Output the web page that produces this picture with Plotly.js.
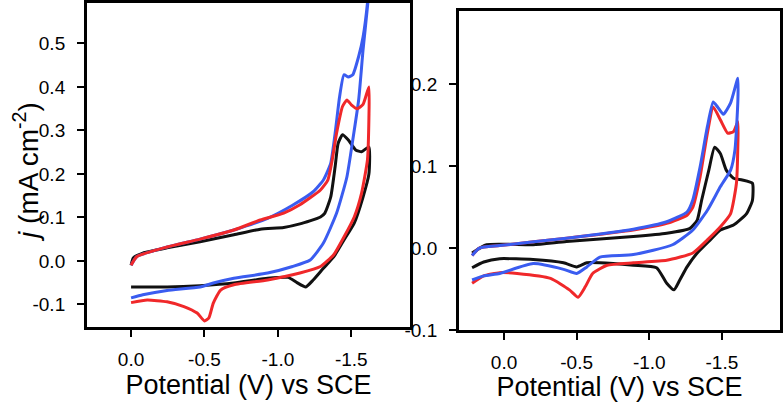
<!DOCTYPE html>
<html>
<head>
<meta charset="utf-8">
<script src="https://cdn.plot.ly/plotly-3.0.1.min.js"></script>
<style>
  body { margin: 0; background: #fff; }
  #graph { width: 784px; height: 402px; }
</style>
</head>
<body>
<div id="graph"></div>
<script>
// left panel: potential (V vs SCE) and current density (mA cm-2)
var leftBlackV = [0, -0.015, -0.08, -0.245, -0.47, -0.70, -0.88, -1.04, -1.15, -1.29, -1.32, -1.36, -1.39, -1.41, -1.44, -1.48, -1.53, -1.57, -1.62,
  -1.62, -1.58, -1.52, -1.45, -1.38, -1.31, -1.24, -1.19, -1.13, -1.07, -0.93, -0.70, -0.47, -0.245, 0];
var leftBlackJ = [-0.01, 0.007, 0.018, 0.03, 0.044, 0.06, 0.073, 0.077, 0.085, 0.101, 0.11, 0.147, 0.217, 0.27, 0.29, 0.278, 0.255, 0.251, 0.262,
  0.20, 0.147, 0.087, 0.048, 0.009, -0.017, -0.044, -0.06, -0.05, -0.038, -0.04, -0.051, -0.057, -0.06, -0.06];

var leftBlueV = [0, -0.04, -0.245, -0.47, -0.70, -0.93, -1.10, -1.24, -1.31, -1.36, -1.39, -1.42, -1.45, -1.48, -1.51, -1.55, -1.58, -1.61, -1.62,
  -1.62, -1.58, -1.55, -1.51, -1.47, -1.40, -1.31, -1.22, -1.10, -0.93, -0.70, -0.56, -0.47, -0.245, -0.08, 0];
var leftBlueJ = [-0.01, 0.01, 0.032, 0.05, 0.071, 0.098, 0.128, 0.159, 0.186, 0.225, 0.294, 0.377, 0.428, 0.423, 0.428, 0.47, 0.515, 0.593, 0.64,
  0.62, 0.485, 0.37, 0.278, 0.193, 0.11, 0.041, 0.002, -0.013, -0.028, -0.04, -0.051, -0.06, -0.068, -0.078, -0.085];

var leftRedV = [0, -0.04, -0.245, -0.47, -0.70, -0.88, -1.04, -1.15, -1.29, -1.34, -1.37, -1.40, -1.44, -1.47, -1.50, -1.54, -1.58, -1.62,
  -1.62, -1.61, -1.57, -1.52, -1.45, -1.38, -1.29, -1.15, -0.93, -0.70, -0.61, -0.56, -0.53, -0.50, -0.45, -0.36, -0.245, -0.11, 0];
var leftRedJ = [-0.01, 0.01, 0.032, 0.05, 0.071, 0.094, 0.11, 0.129, 0.163, 0.186, 0.232, 0.294, 0.355, 0.37, 0.359, 0.35, 0.36, 0.40,
  0.33, 0.232, 0.156, 0.101, 0.055, 0.014, -0.013, -0.028, -0.044, -0.055, -0.067, -0.097, -0.131, -0.138, -0.12, -0.105, -0.094, -0.09, -0.096];

// right panel
var rightBlackV = [0.22, 0.12, -0.20, -0.43, -0.89, -1.12, -1.28, -1.33, -1.36, -1.41, -1.45, -1.49, -1.53, -1.58, -1.64, -1.71,
  -1.71, -1.67, -1.58, -1.49, -1.42, -1.33, -1.26, -1.21, -1.17, -1.12, -1.05, -0.89, -0.66, -0.57, -0.50, -0.41, -0.20, 0.03, 0.14, 0.22];
var rightBlackJ = [-0.006, 0.004, 0.004, 0.008, 0.014, 0.018, 0.024, 0.034, 0.058, 0.095, 0.123, 0.115, 0.095, 0.085, 0.083, 0.079,
  0.058, 0.042, 0.028, 0.022, 0.01, -0.006, -0.023, -0.039, -0.051, -0.043, -0.024, -0.021, -0.018, -0.018, -0.023, -0.018, -0.014, -0.013, -0.017, -0.024];

var rightBlueV = [0.22, 0.17, 0.03, -0.43, -0.89, -1.12, -1.26, -1.30, -1.35, -1.40, -1.44, -1.47, -1.51, -1.56, -1.61,
  -1.61, -1.59, -1.56, -1.49, -1.40, -1.30, -1.16, -0.89, -0.66, -0.57, -0.50, -0.41, -0.20, 0.03, 0.14, 0.22];
var rightBlueJ = [-0.009, 0.0, 0.003, 0.012, 0.023, 0.032, 0.044, 0.059, 0.099, 0.148, 0.178, 0.172, 0.163, 0.177, 0.207,
  0.18, 0.12, 0.095, 0.075, 0.046, 0.022, 0.004, -0.008, -0.011, -0.023, -0.031, -0.026, -0.019, -0.031, -0.034, -0.039];

var rightRedV = [0.22, 0.17, 0.03, -0.43, -0.89, -1.12, -1.26, -1.30, -1.35, -1.40, -1.44, -1.49, -1.54, -1.58, -1.61,
  -1.61, -1.60, -1.56, -1.49, -1.40, -1.30, -1.12, -0.89, -0.71, -0.61, -0.56, -0.51, -0.45, -0.32, -0.09, 0.03, 0.14, 0.22];
var rightRedJ = [-0.009, 0.0, 0.003, 0.012, 0.022, 0.03, 0.04, 0.05, 0.087, 0.14, 0.172, 0.156, 0.14, 0.142, 0.154,
  0.128, 0.079, 0.042, 0.026, 0.01, -0.006, -0.015, -0.018, -0.021, -0.031, -0.047, -0.06, -0.051, -0.037, -0.031, -0.03, -0.034, -0.043];

var xTicks = [0, -0.5, -1, -1.5];
var xTickText = ["0.0", "-0.5", "-1.0", "-1.5"];
var leftYTicks = [-0.1, 0, 0.1, 0.2, 0.3, 0.4, 0.5];
var leftYTickText = ["-0.1", "0.0", "0.1", "0.2", "0.3", "0.4", "0.5"];
var rightYTicks = [-0.1, 0, 0.1, 0.2];
var rightYTickText = ["-0.1", "0.0", "0.1", "0.2"];

var BLACK = "#111111", BLUE = "#3a5cf0", RED = "#f0282a";
var FONT = "Liberation Sans, Arial, sans-serif";

function curve(x, y, color, xa, ya) {
  return {
    x: x, y: y, xaxis: xa, yaxis: ya,
    mode: "lines",
    line: { color: color, width: 3, shape: "spline", smoothing: 0.5 },
    showlegend: false,
    hoverinfo: "skip",
  };
}

var traces = [
  curve(leftBlackV, leftBlackJ, BLACK, "x", "y"),
  curve(leftBlueV, leftBlueJ, BLUE, "x", "y"),
  curve(leftRedV, leftRedJ, RED, "x", "y"),
  curve(rightBlackV, rightBlackJ, BLACK, "x2", "y2"),
  curve(rightRedV, rightRedJ, RED, "x2", "y2"),
  curve(rightBlueV, rightBlueJ, BLUE, "x2", "y2"),
];

function xAxis(domain, range, anchor) {
  return {
    domain: domain, range: range, anchor: anchor,
    tickmode: "array", tickvals: xTicks, ticktext: xTickText,
    ticks: "outside", ticklen: 7, tickwidth: 2, tickcolor: "#000",
    showline: true, linewidth: 3, linecolor: "#000", mirror: true,
    showgrid: false, zeroline: false,
    ticklabelstandoff: 6,
    tickfont: { family: FONT, size: 19, color: "#000" },
    title: { text: "Potential (V) vs SCE", font: { family: FONT, size: 27, color: "#000" }, standoff: 3 },
  };
}

function yAxis(domain, range, anchor, vals, text) {
  return {
    domain: domain, range: range, anchor: anchor,
    tickmode: "array", tickvals: vals, ticktext: text,
    ticks: "outside", ticklen: 7, tickwidth: 2, tickcolor: "#000",
    showline: true, linewidth: 3, linecolor: "#000", mirror: true,
    showgrid: false, zeroline: false,
    ticklabelstandoff: 8,
    tickfont: { family: FONT, size: 19, color: "#000" },
  };
}

var layout = {
  width: 784, height: 402,
  margin: { l: 0, r: 0, t: 0, b: 0 },
  paper_bgcolor: "#fff", plot_bgcolor: "#fff",
  xaxis: xAxis([0.111, 0.523], [0.30, -1.90], "y"),
  yaxis: yAxis([0.1866, 0.9925], [-0.152, 0.593], "x", leftYTicks, leftYTickText),
  xaxis2: xAxis([0.5855, 0.9949], [0.31, -1.90], "y2"),
  yaxis2: yAxis([0.179, 0.9726], [-0.1, 0.289], "x2", rightYTicks, rightYTickText),
  annotations: [
    {
      text: "<i>j</i> (mA cm<sup>-2</sup>)",
      xref: "paper", yref: "paper", x: 0.033, y: 0.572,
      xanchor: "center", yanchor: "middle", textangle: -90,
      showarrow: false,
      font: { family: FONT, size: 28, color: "#000" },
    },
  ],
};

Plotly.newPlot("graph", traces, layout, { displayModeBar: false, staticPlot: true });
</script>
</body>
</html>
